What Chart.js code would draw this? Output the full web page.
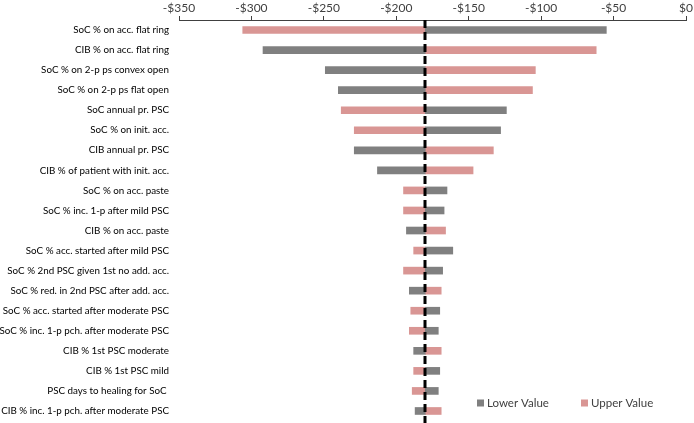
<!DOCTYPE html>
<html>
<head>
<meta charset="utf-8">
<script src="https://cdn.jsdelivr.net/npm/chart.js@4.4.0/dist/chart.umd.min.js"></script>
<style>
  html, body { margin: 0; padding: 0; background: #fff; }
  #wrap { width: 694px; height: 423px; position: relative; }
</style>
</head>
<body>
<div id="wrap"><canvas id="chart"></canvas></div>
<script>
// categories, top to bottom
const categories = [
  'SoC % on acc. flat ring',
  'CIB % on acc. flat ring',
  'SoC % on 2-p ps convex open',
  'SoC % on 2-p ps flat open',
  'SoC annual pr. PSC',
  'SoC % on init. acc.',
  'CIB annual pr. PSC',
  'CIB % of patient with init. acc.',
  'SoC % on acc. paste',
  'SoC % inc. 1-p after mild PSC',
  'CIB % on acc. paste',
  'SoC % acc. started after mild PSC',
  'SoC % 2nd PSC given 1st no add. acc.',
  'SoC % red. in 2nd PSC after add. acc.',
  'SoC % acc. started after moderate PSC',
  'SoC % inc. 1-p pch. after moderate PSC',
  'CIB % 1st PSC moderate',
  'CIB % 1st PSC mild',
  'PSC days to healing for SoC ',
  'CIB % inc. 1-p pch. after moderate PSC'
];

// base case value (dashed line)
const baseValue = -180;

// result with parameter at lower / upper value
const lowerValues = [-55, -292, -249, -240, -124, -128, -229, -213, -165, -167,
                     -193, -161, -168, -191, -170, -171, -188, -170, -171, -187];
const upperValues = [-306, -62, -104, -106, -238, -229, -133, -147, -195, -195,
                     -166, -188, -195, -169, -190, -191, -169, -188, -189, -169];

const xTicks = [-350, -300, -250, -200, -150, -100, -50, 0];

const GREY = '#808080';
const PINK = '#D99694';

// bars float from the base case to each value
const toRange = arr => arr.map(v => [baseValue, v]);

// dashed vertical line at the base case
const baseLinePlugin = {
  id: 'baseLine',
  afterDatasetsDraw(chart) {
    const { ctx, scales: { x } } = chart;
    const px = Math.round(x.getPixelForValue(baseValue));
    ctx.save();
    ctx.strokeStyle = '#000';
    ctx.lineWidth = 3;
    ctx.setLineDash([8, 4]);
    ctx.beginPath();
    ctx.moveTo(px, chart.chartArea.top);
    ctx.lineTo(px, chart.height);
    ctx.stroke();
    ctx.restore();
  }
};

// legend drawn inside the plot, bottom right
const innerLegendPlugin = {
  id: 'innerLegend',
  afterDraw(chart) {
    const { ctx, chartArea } = chart;
    const y = chartArea.bottom - 18;
    const starts = [chartArea.right - 209, chartArea.right - 105];
    ctx.save();
    ctx.font = '11.5px Lato';
    ctx.textBaseline = 'middle';
    chart.data.datasets.forEach((ds, i) => {
      const sx = starts[i];
      ctx.fillStyle = ds.backgroundColor;
      ctx.fillRect(sx, y - 3.5, 7, 7);
      ctx.fillStyle = '#404040';
      ctx.fillText(ds.label, sx + 10, y + 0.5);
    });
    ctx.restore();
  }
};

new Chart(document.getElementById('chart'), {
  type: 'bar',
  data: {
    labels: categories,
    datasets: [{
      label: 'Lower Value',
      data: toRange(lowerValues),
      backgroundColor: GREY,
      barThickness: 7,
      grouped: false
    }, {
      label: 'Upper Value',
      data: toRange(upperValues),
      backgroundColor: PINK,
      barThickness: 7,
      grouped: false
    }]
  },
  options: {
    indexAxis: 'y',
    responsive: true,
    maintainAspectRatio: false,
    animation: false,
    layout: { padding: { top: 0, right: 8, bottom: 2, left: 0 } },
    plugins: {
      legend: { display: false },
      tooltip: { enabled: false }
    },
    scales: {
      x: {
        position: 'top',
        min: -350,
        max: 0,
        afterBuildTicks: axis => { axis.ticks = xTicks.map(v => ({ value: v })); },
        afterFit: axis => { axis.height = 20; axis.paddingLeft = 0; axis.paddingRight = 0; },
        ticks: {
          color: '#404040',
          padding: 1,
          maxRotation: 0,
          font: { family: 'Lato', size: 12 },
          callback: v => (v < 0 ? '-$' : '$') + Math.abs(v)
        },
        grid: {
          drawOnChartArea: false,
          drawTicks: true,
          tickLength: 4,
          color: '#404040'
        },
        border: { color: '#404040', width: 1 }
      },
      y: {
        afterFit: axis => { axis.width = 179; axis.paddingTop = 0; axis.paddingBottom = 0; },
        ticks: {
          color: '#000',
          padding: 10,
          autoSkip: false,
          font: { family: 'Lato', size: 9.8 }
        },
        grid: { display: false, drawTicks: false },
        border: { display: false }
      }
    }
  },
  plugins: [baseLinePlugin, innerLegendPlugin]
});
</script>
</body>
</html>
